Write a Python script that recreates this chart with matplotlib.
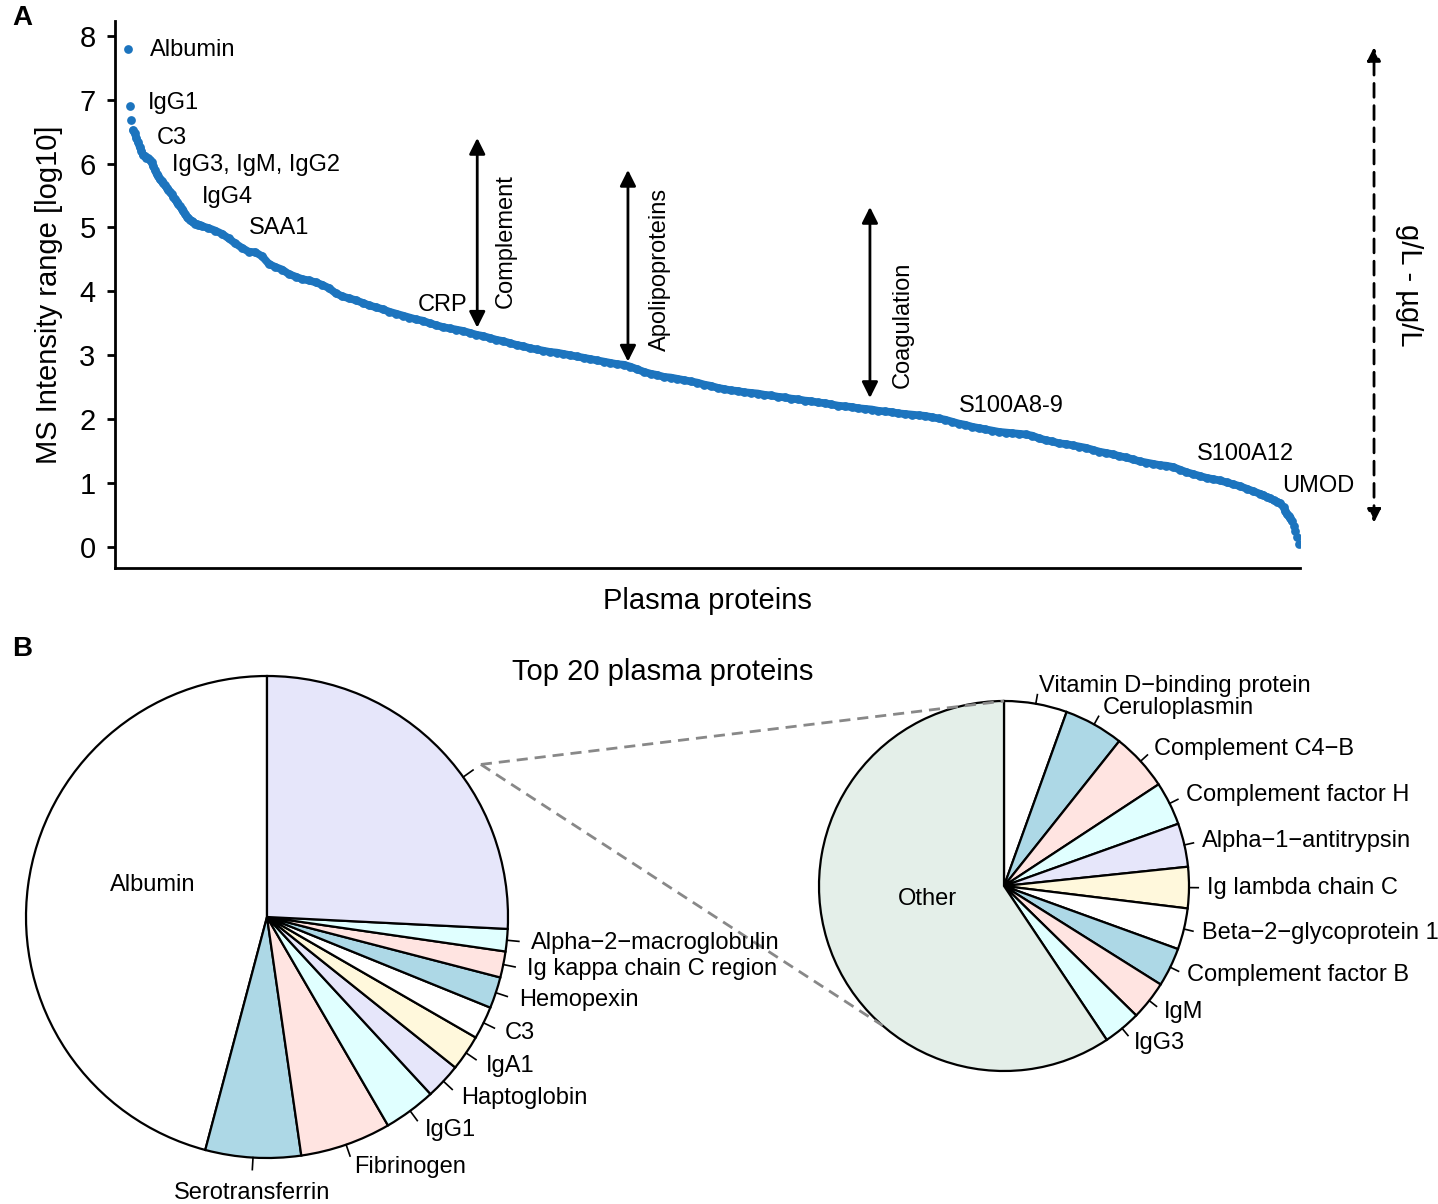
import numpy as np
import matplotlib
matplotlib.use('Agg')
import matplotlib.pyplot as plt

plt.rcParams['font.family'] = ['Liberation Sans', 'DejaVu Sans']

# ---- panel A data: MS intensity (log10) by protein rank ----
rank = list(range(1, 46)) + list(range(49, 678, 4)) + list(range(679, 690, 2)) + list(range(691, 701))
intensity = [
    7.79, 6.90, 6.68, 6.52, 6.47, 6.40, 6.33, 6.26, 6.20, 6.13,
    6.11, 6.09, 6.08, 6.06, 6.02, 5.96, 5.90, 5.84, 5.80, 5.75,
    5.72, 5.69, 5.66, 5.62, 5.59, 5.56, 5.52, 5.48, 5.44, 5.40,
    5.36, 5.33, 5.29, 5.25, 5.21, 5.17, 5.14, 5.12, 5.10, 5.08,
    5.06, 5.05, 5.04, 5.03, 5.02,
    4.99, 4.95, 4.90, 4.83, 4.75, 4.68, 4.62, 4.61, 4.55, 4.43,
    4.38, 4.34, 4.27, 4.23, 4.19, 4.17, 4.14, 4.10, 4.05, 3.97,
    3.92, 3.89, 3.86, 3.82, 3.78, 3.75, 3.72, 3.68, 3.65, 3.62,
    3.59, 3.56, 3.54, 3.50, 3.47, 3.44, 3.42, 3.40, 3.38, 3.35,
    3.32, 3.30, 3.27, 3.24, 3.22, 3.19, 3.16, 3.14, 3.11, 3.09,
    3.07, 3.05, 3.04, 3.02, 3.00, 2.98, 2.96, 2.94, 2.92, 2.90,
    2.88, 2.86, 2.85, 2.82, 2.78, 2.74, 2.71, 2.69, 2.66, 2.65,
    2.63, 2.61, 2.59, 2.57, 2.54, 2.52, 2.49, 2.47, 2.45, 2.44,
    2.42, 2.41, 2.40, 2.38, 2.37, 2.35, 2.34, 2.32, 2.31, 2.29,
    2.28, 2.26, 2.25, 2.23, 2.21, 2.20, 2.19, 2.17, 2.16, 2.15,
    2.13, 2.12, 2.11, 2.09, 2.08, 2.07, 2.06, 2.05, 2.03, 2.01,
    1.99, 1.96, 1.93, 1.91, 1.88, 1.86, 1.84, 1.82, 1.80, 1.79,
    1.78, 1.77, 1.76, 1.74, 1.70, 1.67, 1.65, 1.62, 1.61, 1.59,
    1.57, 1.55, 1.52, 1.49, 1.47, 1.45, 1.42, 1.40, 1.37, 1.34,
    1.32, 1.30, 1.28, 1.27, 1.25, 1.21, 1.17, 1.14, 1.11, 1.08,
    1.06, 1.04, 1.01, 0.98, 0.95, 0.91, 0.87, 0.83,
    0.81, 0.78, 0.76, 0.73, 0.71, 0.68,
    0.62, 0.56, 0.51, 0.48, 0.45, 0.40, 0.33, 0.25, 0.15, 0.05,
]

# protein labels (name, rank, value)
point_names = ['Albumin', 'IgG1', 'C3', 'IgG3, IgM, IgG2', 'IgG4', 'SAA1', 'CRP',
               'S100A8-9', 'S100A12', 'UMOD']
name_rank = [14, 13, 18, 27, 45, 73, 174, 497, 639, 690]
name_val = [7.78, 6.95, 6.40, 5.98, 5.48, 4.99, 3.79, 2.21, 1.46, 0.95]

# protein classes: arrow (rank, top, bottom) and label (rank, value)
groups = ['Complement', 'Apolipoproteins', 'Coagulation']
group_rank = [209.5, 299.5, 444]
group_top = [6.40, 5.90, 5.32]
group_bottom = [3.43, 2.90, 2.33]
group_lab_rank = [226.5, 318.6, 463.7]
group_lab_val = [4.79, 4.35, 3.47]

# ---- panel B data ----
left_names = ['Albumin', 'Serotransferrin', 'Fibrinogen', 'IgG1', 'Haptoglobin', 'IgA1',
              'C3', 'Hemopexin', 'Ig kappa chain C region', 'Alpha\u22122\u2212macroglobulin', '']
left_share = [45.9, 6.4, 6.1, 3.5, 2.4, 2.4, 2.2, 2.1, 1.75, 1.5, 25.8]

right_names = ['Vitamin D\u2212binding protein', 'Ceruloplasmin', 'Complement C4\u2212B',
               'Complement factor H', 'Alpha\u22121\u2212antitrypsin', 'Ig lambda chain C',
               'Beta\u22122\u2212glycoprotein 1', 'Complement factor B', 'IgM', 'IgG3', 'Other']
right_share = [5.5, 5.2, 5.05, 3.8, 3.8, 3.6, 3.6, 3.4, 3.4, 3.3, 59.4]

pie_cols = ['white', 'lightblue', 'mistyrose', 'lightcyan', 'lavender', 'cornsilk']
blue = '#1c74be'

fig = plt.figure(figsize=(14.38, 12.04), dpi=100)

# ================= A =================
ax = fig.add_axes([115 / 1438, 1 - 568 / 1204, 1185 / 1438, 547 / 1204])
# dense run of proteins reads as a continuous band
ax.plot(rank[3:215], intensity[3:215], '-', color=blue, lw=5.6,
        solid_capstyle='round', solid_joinstyle='round')
ax.plot(rank, intensity, 'o', color=blue, markersize=6.3, markeredgewidth=0)
ax.set_xlim(-6.8, 700.8)
ax.set_ylim(-0.33, 8.23)
ax.set_yticks(range(0, 9))
ax.set_xticks([])
ax.tick_params(axis='y', labelsize=21, length=6, width=2, pad=8)
for s in ['top', 'right']:
    ax.spines[s].set_visible(False)
for s in ['left', 'bottom']:
    ax.spines[s].set_linewidth(2)
ax.set_ylabel('MS Intensity range [log10]', fontsize=21, labelpad=12)
ax.set_xlabel('Plasma proteins', fontsize=21, labelpad=14)

for nm, r, v in zip(point_names, name_rank, name_val):
    ax.text(r, v, nm, fontsize=17, ha='left', va='center')

for g, r, t, b, lr_, lv in zip(groups, group_rank, group_top, group_bottom,
                               group_lab_rank, group_lab_val):
    ax.annotate('', xy=(r, t), xytext=(r, b),
                arrowprops=dict(arrowstyle='<|-|>', color='black', lw=2,
                                mutation_scale=24, shrinkA=0, shrinkB=0))
    ax.text(lr_, lv, g, fontsize=17, rotation=90, ha='center', va='center')

# concentration range arrow
ax.annotate('', xy=(745, 7.82), xytext=(745, 0.38), annotation_clip=False,
            arrowprops=dict(arrowstyle='<|-|>', color='black', lw=2, linestyle=(0, (5, 3)),
                            mutation_scale=20, shrinkA=0, shrinkB=0))
ax.text(766, 4.1, 'g/L - \u00b5g/L', fontsize=21, rotation=270, ha='center', va='center',
        clip_on=False)

fig.text(12 / 1438, 1 - 18 / 1204, 'A', fontsize=20, fontweight='bold', ha='left', va='center')
fig.text(12 / 1438, 1 - 649 / 1204, 'B', fontsize=20, fontweight='bold', ha='left', va='center')

# ================= B =================
bx = fig.add_axes([0, 0, 1, 566 / 1204])
lc, lr = (267, 287), 241
rc, rr = (1004, 318), 185

lw, _ = bx.pie(left_share, colors=(pie_cols * 2)[:len(left_share)], startangle=90,
               counterclock=True, center=lc, radius=lr,
               wedgeprops=dict(edgecolor='black', linewidth=1.6))
rcols = (pie_cols * 2)[:len(right_share) - 1] + ['#e4efe9']
rw, _ = bx.pie(right_share, colors=rcols, startangle=90, counterclock=False,
               center=rc, radius=rr, wedgeprops=dict(edgecolor='black', linewidth=1.6))


def label_pie(wedges, names, c, r, skip):
    for w, nm in zip(wedges, names):
        if nm in skip or nm == '':
            continue
        a = np.deg2rad((w.theta1 + w.theta2) / 2)
        ca, sa = np.cos(a), np.sin(a)
        bx.plot([c[0] + r * ca, c[0] + 1.05 * r * ca], [c[1] + r * sa, c[1] + 1.05 * r * sa],
                color='black', lw=1.2)
        if abs(ca) < 0.1:
            ha, va = 'center', 'top'
        else:
            ha, va = ('left' if ca > 0 else 'right'), 'center'
        bx.text(c[0] + 1.1 * r * ca, c[1] + 1.1 * r * sa, nm, fontsize=17, ha=ha, va=va)


label_pie(lw, left_names, lc, lr, ['Albumin'])
label_pie(rw, right_names, rc, rr, ['Other'])
bx.text(153, 319, 'Albumin', fontsize=17, ha='center', va='center')
bx.text(927, 305, 'Other', fontsize=17, ha='center', va='center')

# zoom lines from the "other" slice of the left pie to the right pie
za = np.deg2rad(35.5)
bx.plot([lc[0] + lr * np.cos(za), lc[0] + 1.05 * lr * np.cos(za)],
        [lc[1] + lr * np.sin(za), lc[1] + 1.05 * lr * np.sin(za)], color='black', lw=1.2)
sx, sy = lc[0] + 1.09 * lr * np.cos(za), lc[1] + 1.09 * lr * np.sin(za)
for ang in [90, 229]:
    t = np.deg2rad(ang)
    bx.plot([sx, rc[0] + rr * np.cos(t)], [sy, rc[1] + rr * np.sin(t)],
            color='#888888', lw=2, linestyle=(0, (4, 2.5)))

bx.text(663, 1204 - 672, 'Top 20 plasma proteins', fontsize=21, ha='center', va='center')

bx.set_xlim(0, 1438)
bx.set_ylim(0, 566)
bx.set_aspect('equal')
bx.axis('off')

fig.savefig('out.png', dpi=100)
